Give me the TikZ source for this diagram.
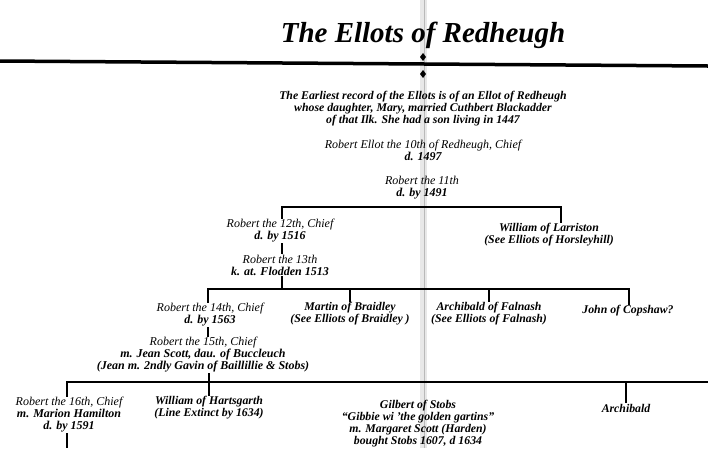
\documentclass[tikz,border=0pt]{standalone}
\usepackage{fontspec}
\setmainfont{Liberation Serif}
\usepackage{tikz}

\begin{document}
\begin{tikzpicture}[x=1pt,y=-1pt,
  line/.style={line width=1.3pt},
  gen/.style={align=center, inner sep=0.5pt, font=\fontsize{12}{12}\selectfont\itshape},
  heir/.style={gen, font=\fontsize{11.8}{12}\selectfont\bfseries\itshape}]
\useasboundingbox (0,0) rectangle (708,448);

% fold in the paper
\fill[gray!18] (420,0) rectangle (427,448);
\draw[gray!55, line width=0.8pt] (424,0) -- (424,448);

\node[font=\fontsize{29}{30}\selectfont\bfseries\itshape] (title) at (423,35) {The Ellots of Redheugh};

\coordinate (L) at (0,61);
\coordinate (R) at (708,66);
\draw[line width=3.5pt] (L) -- (R);
\fill (423,53) -- (426,57) -- (423,61) -- (420,57) -- cycle;
\fill (423,70) -- (426,74) -- (423,78) -- (420,74) -- cycle;

\node[heir] (rec) at (423,109) {The Earliest record of the Ellots is of an Ellot of Redheugh\\
  whose daughter, Mary, married Cuthbert Blackadder\\ of that Ilk. She had a son living in 1447};
\node[gen] (r10) at (423,150) {Robert Ellot the 10th of Redheugh, Chief\\ \textbf{d. 1497}};
\node[gen] (r11) at (422,188) {Robert the 11th\\ \textbf{d. by 1491}};

\coordinate (b1l) at (282,207);
\coordinate (b1r) at (561,207);
\node[gen] (r12) at (280,231) {Robert the 12th, Chief\\ \textbf{d. by 1516}};
\node[heir] (wl) at (549,235) {William of Larriston\\ (See Elliots of Horsleyhill)};
\node[gen] (r13) at (280,265) {Robert the 13th\\ \textbf{k. at. Flodden 1513}};

\coordinate (b2l) at (208,289);
\coordinate (b2r) at (629,289);
\node[gen] (r14) at (210,315) {Robert the 14th, Chief\\ \textbf{d. by 1563}};
\node[heir] (mb) at (350,314) {Martin of Braidley\\ (See Elliots of Braidley )};
\node[heir] (af) at (489,314) {Archibald of Falnash\\ (See Elliots of Falnash)};
\node[heir] (jc) at (628,311) {John of Copshaw?};
\node[gen] (r15) at (203,355) {Robert the 15th, Chief\\
  \textbf{m. Jean Scott, dau. of Buccleuch}\\ \textbf{(Jean m. 2ndly Gavin of Baillillie \& Stobs)}};

\coordinate (b3l) at (67,382);
\coordinate (b3r) at (708,382);
\coordinate (bottom) at (67,448);
\node[gen] (r16) at (69,415) {Robert the 16th, Chief\\ \textbf{m. Marion Hamilton}\\ \textbf{d. by 1591}};
\node[heir] (wh) at (209,408) {William of Hartsgarth\\ (Line Extinct by 1634)};
\node[heir] (gs) at (418,424) {Gilbert of Stobs\\ ``Gibbie wi 'the golden gartins''\\
  m. Margaret Scott (Harden)\\ bought Stobs 1607, d 1634};
\node[heir] (ar) at (626,408) {Archibald};

\draw[line] (r12.north -| b1l) -- (b1l) -- (b1r) -- (b1r |- wl.north);
\draw[line] (r12.south -| b1l) -- (r13.north -| b1l);
\draw[line] (r13.south -| b1l) -- (b1l |- b2l);
\draw[line] (r14.north -| b2l) -- (b2l) -- (b2r) -- (b2r |- jc.north);
\draw[line] (mb.north) -- (mb.north |- b2l);
\draw[line] (af.north) -- (af.north |- b2l);
\draw[line] (r14.south -| b2l) -- (r15.north -| b2l);
\draw[line] (r16.north -| b3l) -- (b3l) -- (b3r);
\draw[line] (r15.south -| wh.north) -- (wh.north);
\draw[line] (ar.north) -- (ar.north |- b3l);
\draw[line] (r16.south -| b3l) -- (bottom);
\end{tikzpicture}
\end{document}
